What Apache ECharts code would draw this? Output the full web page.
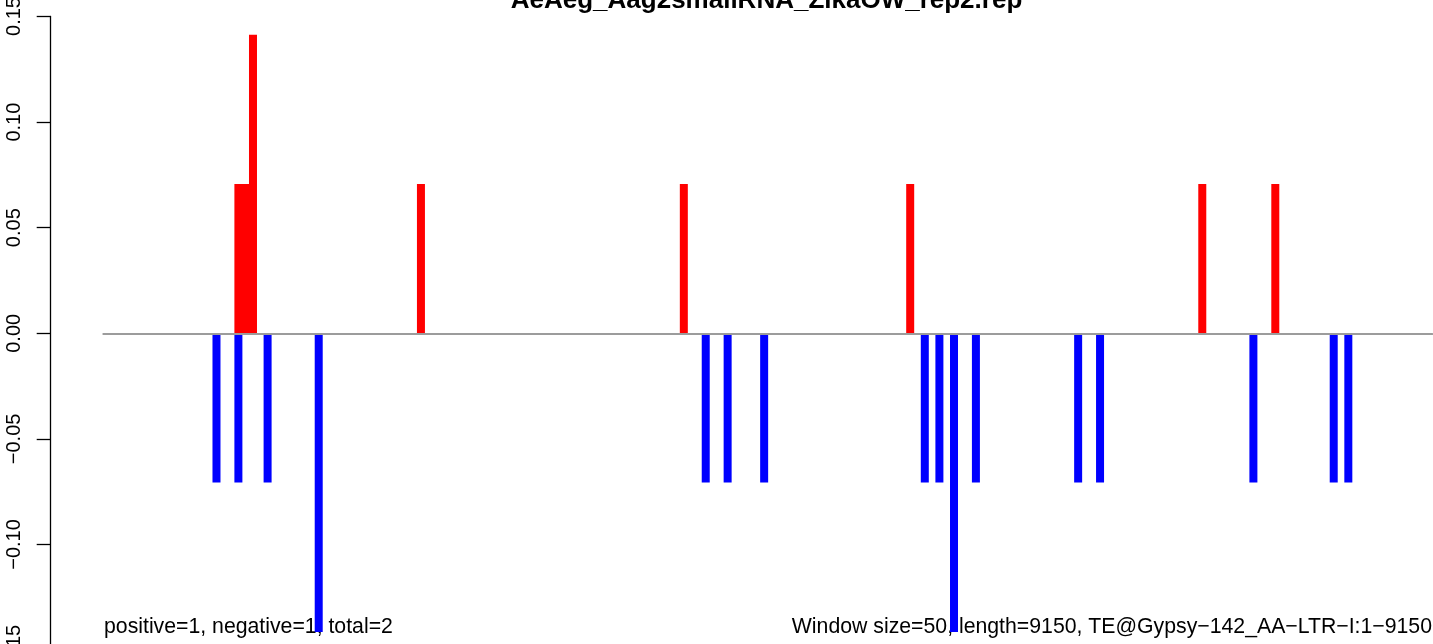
<!DOCTYPE html>
<html>
<head>
<meta charset="utf-8">
<script src="https://cdn.jsdelivr.net/npm/echarts@6/dist/echarts.min.js"></script>
<style>
html,body{margin:0;padding:0;background:#fff;}
#chart{width:1433px;height:644px;}
</style>
</head>
<body>
<div id="chart"></div>
<script>
// Window indices (50 bp windows) and values
var posWindows = [18, 19, 20, 43, 79, 110, 150, 160];
var posValues  = [0.0707, 0.0707, 0.1414, 0.0707, 0.0707, 0.0707, 0.0707, 0.0707];
var negWindows = [15, 18, 22, 29, 82, 85, 90, 112, 114, 116, 119, 133, 136, 157, 168, 170];
var negValues  = [-0.0707, -0.0707, -0.0707, -0.1414, -0.0707, -0.0707, -0.0707, -0.0707, -0.0707, -0.1414, -0.0707, -0.0707, -0.0707, -0.0707, -0.0707, -0.0707];
var windowCount = 182;
var yTicks = [-0.15, -0.10, -0.05, 0.00, 0.05, 0.10, 0.15];
var titleText = 'AeAeg_Aag2smallRNA_ZikaOW_rep2.rep';
var leftNote = 'positive=1, negative=1, total=2';
var rightNote = 'Window size=50, length=9150, TE@Gypsy\u2212142_AA\u2212LTR\u2212I:1\u22129150';

var FONT = '"Liberation Sans", Arial, Helvetica, sans-serif';
var chart = echarts.init(document.getElementById('chart'), null, {renderer: 'canvas'});

function toData(ws, vs) {
  return ws.map(function (w, i) { return [w + 0.5, vs[i]]; });
}
function fmt(v) {
  if (Math.abs(v) < 1e-9) return '0.00';
  return (v < 0 ? '\u2212' : '') + Math.abs(v).toFixed(2);
}

chart.setOption({
  animation: false,
  backgroundColor: '#ffffff',
  grid: {left: 103.3, right: 0.7, top: 16.5, bottom: -6.1, containLabel: false, outerBoundsMode: 'none'},
  xAxis: {
    type: 'value', min: 0, max: windowCount,
    z: 5,
    axisLine: {show: true, onZero: true, lineStyle: {color: '#9c9c9c', width: 2}},
    axisTick: {show: false}, axisLabel: {show: false}, splitLine: {show: false}
  },
  yAxis: {
    type: 'value', min: yTicks[0], max: yTicks[yTicks.length - 1], interval: 0.05,
    offset: 52.6,
    axisLine: {show: true, onZero: false, lineStyle: {color: '#000', width: 1.3}},
    axisTick: {show: true, length: 14, lineStyle: {color: '#000', width: 1.3}},
    axisLabel: {show: true, rotate: 90, margin: 26, color: '#000', fontSize: 20, fontFamily: FONT, formatter: fmt, showMinLabel: true, showMaxLabel: true, hideOverlap: false},
    splitLine: {show: false}
  },
  series: [
    {type: 'bar', name: 'positive', data: toData(posWindows, posValues), barWidth: 8, barGap: '-100%', itemStyle: {color: '#ff0000'}},
    {type: 'bar', name: 'negative', data: toData(negWindows, negValues), barWidth: 8, barGap: '-100%', itemStyle: {color: '#0000ff'}}
  ],
  graphic: [
    {type: 'text', x: 766.5, y: 1, style: {text: titleText, font: 'bold 26px ' + FONT, fill: '#000', textAlign: 'center', textVerticalAlign: 'middle'}},
    {type: 'text', x: 104, y: 627.4, style: {text: leftNote, font: '21.25px ' + FONT, fill: '#000', textAlign: 'left', textVerticalAlign: 'middle'}},
    {type: 'text', x: 1432, y: 627.4, style: {text: rightNote, font: '21.25px ' + FONT, fill: '#000', textAlign: 'right', textVerticalAlign: 'middle'}}
  ]
});
</script>
</body>
</html>
